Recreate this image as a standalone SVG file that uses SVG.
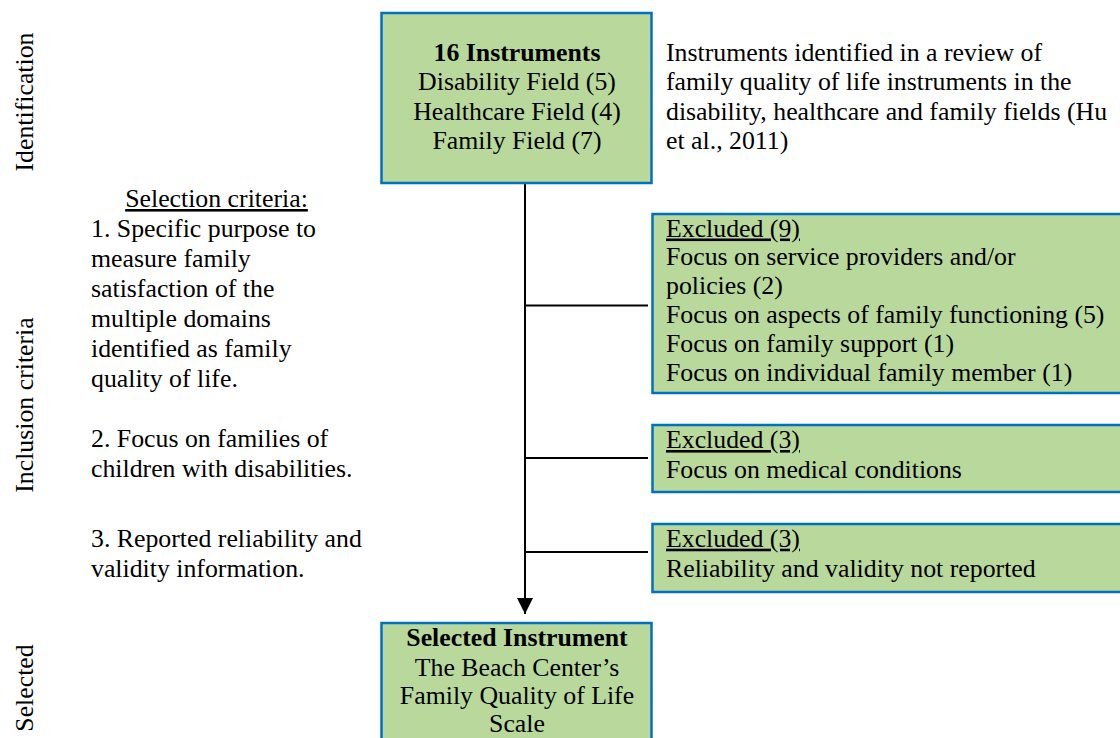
<svg xmlns="http://www.w3.org/2000/svg" width="1120" height="738" viewBox="0 0 1120 738">
  <style>
    text { font-family: "Liberation Serif", "Times New Roman", serif; font-size: 25.8px; fill: #000; }
    .b { font-weight: bold; }
    .c { text-anchor: middle; }
    .u { text-decoration: underline; }
    .box { fill: #B9D89B; stroke: #0070C0; stroke-width: 2.5; }
    .conn { stroke: #000; stroke-width: 2; fill: none; }
  </style>
  <defs>
    <marker id="arrow" markerUnits="userSpaceOnUse" markerWidth="18" markerHeight="16" refX="16" refY="8" orient="auto">
      <path d="M0,0 L16,8 L0,16 Z" fill="#000"/>
    </marker>
  </defs>
  <rect width="1120" height="738" fill="#fff"/>

  <!-- stage labels -->
  <g id="stage-labels">
    <text transform="translate(33,102) rotate(-90)" class="c">Identification</text>
    <text transform="translate(33,405) rotate(-90)" class="c">Inclusion criteria</text>
    <text transform="translate(33,688) rotate(-90)" class="c">Selected</text>
  </g>

  <!-- connectors -->
  <g id="connectors">
    <line class="conn" x1="525" y1="183" x2="525" y2="614" marker-end="url(#arrow)"/>
    <line class="conn" x1="525" y1="305.5" x2="648" y2="305.5"/>
    <line class="conn" x1="525" y1="458" x2="648" y2="458"/>
    <line class="conn" x1="525" y1="552" x2="648" y2="552"/>
  </g>

  <g id="node-identified">
    <rect class="box" x="381.5" y="13" width="270" height="170"/>
    <text x="517" y="60.5" class="c b">16 Instruments</text>
    <text x="517" y="90" class="c">Disability Field (5)</text>
    <text x="517" y="119.5" class="c">Healthcare Field (4)</text>
    <text x="517" y="149" class="c">Family Field (7)</text>
  </g>

  <g id="note-review">
    <text x="666" y="60.5">Instruments identified in a review of</text>
    <text x="666" y="90">family quality of life instruments in the</text>
    <text x="666" y="119.5">disability, healthcare and family fields (Hu</text>
    <text x="666" y="149">et al., 2011)</text>
  </g>

  <g id="criteria">
    <text x="216.5" y="207" class="c u">Selection criteria:</text>
    <text x="91" y="237">1. Specific purpose to</text>
    <text x="91" y="267">measure family</text>
    <text x="91" y="297">satisfaction of the</text>
    <text x="91" y="327">multiple domains</text>
    <text x="91" y="357">identified as family</text>
    <text x="91" y="387">quality of life.</text>
    <text x="91" y="447">2. Focus on families of</text>
    <text x="91" y="477">children with disabilities.</text>
    <text x="91" y="547">3. Reported reliability and</text>
    <text x="91" y="577">validity information.</text>
  </g>

  <g id="node-excluded-9">
    <rect class="box" x="652.5" y="214" width="480" height="179"/>
    <text x="666" y="236.5" class="u">Excluded (9)</text>
    <text x="666" y="265.3">Focus on service providers and/or</text>
    <text x="666" y="294.1">policies (2)</text>
    <text x="666" y="322.9">Focus on aspects of family functioning (5)</text>
    <text x="666" y="351.7">Focus on family support (1)</text>
    <text x="666" y="380.5">Focus on individual family member (1)</text>
  </g>

  <g id="node-excluded-medical">
    <rect class="box" x="652.5" y="425" width="480" height="67"/>
    <text x="666" y="448" class="u">Excluded (3)</text>
    <text x="666" y="478">Focus on medical conditions</text>
  </g>

  <g id="node-excluded-reliability">
    <rect class="box" x="652.5" y="524" width="480" height="68"/>
    <text x="666" y="546.7" class="u">Excluded (3)</text>
    <text x="666" y="576.7">Reliability and validity not reported</text>
  </g>

  <g id="node-selected">
    <rect class="box" x="381.5" y="623" width="270" height="130"/>
    <text x="517" y="645.5" class="c b">Selected Instrument</text>
    <text x="517" y="675.5" class="c">The Beach Center’s</text>
    <text x="517" y="704" class="c">Family Quality of Life</text>
    <text x="517" y="732" class="c">Scale</text>
  </g>
</svg>
